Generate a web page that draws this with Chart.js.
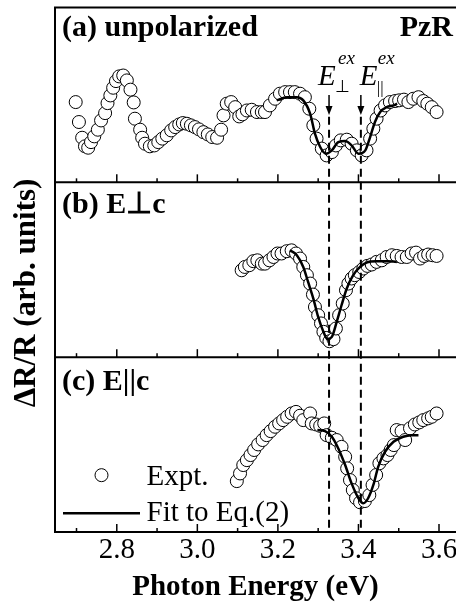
<!DOCTYPE html>
<html>
<head>
<meta charset="utf-8">
<script src="https://cdn.jsdelivr.net/npm/chart.js@4.4.0/dist/chart.umd.min.js"></script>
<style>
  html, body { margin: 0; padding: 0; background: #fff; overflow: hidden; }
  #wrap { width: 456px; height: 605px; overflow: hidden; }
</style>
</head>
<body>
<div id="wrap"><canvas id="chart" width="480" height="605"></canvas></div>
<script>
// x axis: photon energy (eV)
const xTicks = [2.7, 2.8, 2.9, 3.0, 3.1, 3.2, 3.3, 3.4, 3.5, 3.6];
const xLabels = [2.8, 3.0, 3.2, 3.4, 3.6];
const xRange = [2.6466, 3.6422];
const yRange = [0, 10];

// exciton energies (perp, parallel)
const exEnergies = [3.327, 3.406];

// (a) unpolarized
const aExptE = [2.698, 2.706, 2.714, 2.721, 2.729, 2.736, 2.744, 2.753, 2.761, 2.771, 2.777, 2.784, 2.791, 2.798, 2.806, 2.816,
  2.825, 2.834, 2.842, 2.845, 2.858, 2.863, 2.870, 2.882, 2.893, 2.903, 2.913, 2.924, 2.935, 2.945, 2.955, 2.964, 2.974,
  2.984, 2.994, 3.004, 3.015, 3.026, 3.037, 3.049, 3.059, 3.065, 3.073, 3.084, 3.094, 3.104, 3.112, 3.123, 3.135, 3.148,
  3.160, 3.168, 3.180, 3.193, 3.205, 3.218, 3.230, 3.242, 3.255, 3.267, 3.278, 3.288, 3.296, 3.309, 3.321, 3.334, 3.344,
  3.356, 3.371, 3.383, 3.396, 3.408, 3.420, 3.429, 3.437, 3.445, 3.455, 3.466, 3.478, 3.491, 3.501, 3.513, 3.524, 3.536,
  3.549, 3.561, 3.571, 3.582, 3.594];
const aExptR = [4.59, 3.45, 2.55, 2.06, 1.98, 2.30, 2.63, 3.01, 3.54, 3.96, 4.53, 4.97, 5.41, 5.79, 6.06, 6.11,
  5.83, 5.30, 4.57, 3.64, 3.01, 2.55, 2.21, 2.06, 2.11, 2.30, 2.50, 2.69, 2.97, 3.16, 3.31, 3.39, 3.35,
  3.26, 3.16, 3.03, 2.87, 2.74, 2.59, 2.55, 3.01, 3.83, 4.50, 4.59, 4.30, 3.77, 3.89, 4.11, 4.15, 4.02,
  4.02, 4.02, 4.40, 4.78, 5.07, 5.16, 5.16, 5.16, 5.07, 4.87, 4.21, 3.26, 2.50, 1.93, 1.54, 1.73, 2.11,
  2.40, 2.44, 2.21, 1.83, 1.54, 1.83, 2.50, 3.07, 3.64, 4.11, 4.40, 4.59, 4.65, 4.69, 4.73, 4.59, 4.78,
  4.87, 4.65, 4.50, 4.30, 4.02];
const aFitE = [3.197, 3.222, 3.247, 3.263, 3.280, 3.292, 3.305, 3.319, 3.334, 3.350, 3.367, 3.383, 3.400, 3.417, 3.429,
  3.441, 3.454, 3.470, 3.487, 3.496];
const aFitR = [4.69, 4.87, 4.87, 4.69, 3.93, 2.78, 2.02, 1.64, 1.83, 2.30, 2.36, 2.11, 1.64, 1.83, 2.59,
  3.45, 4.02, 4.30, 4.40, 4.50];

// (b) E perpendicular to c
const bExptE = [3.110, 3.118, 3.129, 3.139, 3.149, 3.160, 3.168, 3.179, 3.189, 3.199, 3.209, 3.222, 3.234, 3.245, 3.255,
  3.263, 3.272, 3.280, 3.287, 3.292, 3.300, 3.307, 3.313, 3.320, 3.328, 3.338, 3.344, 3.352, 3.361, 3.369, 3.375, 3.383,
  3.391, 3.402, 3.412, 3.422, 3.433, 3.445, 3.458, 3.470, 3.483, 3.495, 3.507, 3.520, 3.532, 3.543, 3.553, 3.563, 3.573,
  3.584, 3.594];
const bExptR = [4.97, 5.16, 5.26, 5.49, 5.54, 5.35, 5.35, 5.54, 5.73, 5.93, 5.93, 6.06, 6.11, 5.93, 5.64,
  5.16, 4.69, 4.21, 3.58, 2.87, 2.40, 1.93, 1.45, 1.10, 0.91, 1.03, 1.64, 2.40, 3.07, 3.83, 4.21, 4.50,
  4.69, 4.87, 5.07, 5.22, 5.30, 5.45, 5.54, 5.73, 5.83, 5.79, 5.73, 5.73, 5.93, 5.98, 5.64, 5.79, 5.87,
  5.83, 5.79];
const bFitE = [3.230, 3.247, 3.263, 3.275, 3.288, 3.300, 3.313, 3.323, 3.334, 3.346, 3.358, 3.371, 3.387, 3.404, 3.420,
  3.445, 3.470, 3.495];
const bFitR = [6.11, 5.83, 5.16, 4.30, 3.35, 2.30, 1.45, 1.03, 1.16, 2.02, 2.97, 3.93, 4.69, 5.16, 5.41,
  5.49, 5.49, 5.45];

// (c) E parallel to c
const cExptE = [3.098, 3.106, 3.114, 3.123, 3.132, 3.141, 3.151, 3.162, 3.172, 3.182, 3.193, 3.203, 3.213, 3.223, 3.234,
  3.245, 3.255, 3.263, 3.280, 3.284, 3.295, 3.305, 3.315, 3.321, 3.334, 3.346, 3.358, 3.367, 3.372, 3.379, 3.386, 3.394,
  3.404, 3.416, 3.427, 3.435, 3.444, 3.452, 3.462, 3.472, 3.480, 3.488, 3.495, 3.507, 3.516, 3.528, 3.540, 3.551, 3.561,
  3.573, 3.582, 3.594];
const cExptR = [2.91, 3.35, 3.83, 4.11, 4.40, 4.69, 5.01, 5.26, 5.54, 5.77, 6.02, 6.21, 6.40, 6.59, 6.78,
  6.87, 6.65, 6.40, 6.78, 6.21, 6.15, 6.07, 6.21, 5.54, 5.39, 5.26, 4.87, 4.30, 3.64, 2.97, 2.40, 1.93,
  1.70, 1.77, 2.11, 2.69, 3.26, 3.93, 4.21, 4.40, 4.69, 4.97, 5.83, 5.77, 5.26, 5.93, 6.15, 6.27, 6.40,
  6.50, 6.59, 6.78];
const cFitE = [3.298, 3.317, 3.334, 3.350, 3.367, 3.383, 3.400, 3.412, 3.424, 3.437, 3.449, 3.466, 3.487, 3.511, 3.532,
  3.549];
const cFitR = [5.83, 5.77, 5.45, 4.78, 3.83, 2.78, 1.93, 1.64, 1.93, 2.69, 3.73, 4.59, 5.16, 5.45, 5.54,
  5.54];

const SERIF = '"Liberation Serif", "Times New Roman", serif';

function pts(xs, ys) {
  return xs.map((v, i) => ({ x: v, y: ys[i] }));
}

function exptSet(label, xs, ys, axis) {
  return {
    type: 'scatter', label, data: pts(xs, ys), yAxisID: axis, order: 2,
    pointStyle: 'circle', pointRadius: 6.5, pointHoverRadius: 6.5,
    pointBackgroundColor: '#fff', pointBorderColor: '#000', pointBorderWidth: 1,
    showLine: false
  };
}

function fitSet(label, xs, ys, axis) {
  return {
    type: 'line', label, data: pts(xs, ys), yAxisID: axis, order: 1,
    borderColor: '#000', borderWidth: 2.5, pointRadius: 0, fill: false,
    cubicInterpolationMode: 'monotone'
  };
}

function panelAxis() {
  return {
    type: 'linear', position: 'left', stack: 'panels', stackWeight: 1,
    min: yRange[0], max: yRange[1], display: false
  };
}

// frames, inner ticks, dashed exciton lines and all in-plot text
const panelDecor = {
  id: 'panelDecor',
  afterDatasetsDraw(chart) {
    const { ctx, chartArea: area, scales } = chart;
    const x = scales.x;
    const panels = [scales.ya, scales.yb, scales.yc];
    ctx.save();
    ctx.strokeStyle = '#000';
    ctx.fillStyle = '#000';

    // dashed lines at the exciton energies
    ctx.lineWidth = 2;
    ctx.setLineDash([8, 5]);
    exEnergies.forEach(e => {
      const px = x.getPixelForValue(e);
      ctx.beginPath();
      ctx.moveTo(px, panels[0].getPixelForValue(3.75));
      ctx.lineTo(px, area.bottom);
      ctx.stroke();
    });
    ctx.setLineDash([]);

    // arrows
    ctx.lineWidth = 1.5;
    exEnergies.forEach(e => {
      const px = x.getPixelForValue(e);
      const top = panels[0].getPixelForValue(5.0);
      const tip = panels[0].getPixelForValue(3.85);
      ctx.beginPath();
      ctx.moveTo(px, top);
      ctx.lineTo(px, tip - 6);
      ctx.stroke();
      ctx.beginPath();
      ctx.moveTo(px - 3.5, tip - 9);
      ctx.lineTo(px + 3.5, tip - 9);
      ctx.lineTo(px, tip);
      ctx.closePath();
      ctx.fill();
    });

    // frame
    ctx.lineWidth = 2;
    ctx.beginPath();
    ctx.moveTo(area.left, area.top);
    ctx.lineTo(area.right, area.top);
    ctx.moveTo(area.left, area.top - 1);
    ctx.lineTo(area.left, area.bottom + 1);
    panels.forEach(s => {
      ctx.moveTo(area.left, s.bottom);
      ctx.lineTo(area.right, s.bottom);
    });
    ctx.stroke();

    // inner ticks on every panel
    ctx.lineWidth = 1.5;
    panels.forEach(s => {
      xTicks.forEach(v => {
        const px = x.getPixelForValue(v);
        const len = xLabels.includes(v) ? 8 : 4;
        ctx.beginPath();
        ctx.moveTo(px, s.bottom);
        ctx.lineTo(px, s.bottom - len);
        ctx.stroke();
      });
    });

    // panel labels
    ctx.textBaseline = 'alphabetic';
    ctx.font = 'bold 30px ' + SERIF;
    ctx.textAlign = 'left';
    ctx.fillText('(a) unpolarized', area.left + 7, panels[0].top + 28);
    ctx.fillText('(b) E\u22A5c', area.left + 7, panels[1].top + 31);
    ctx.fillText('(c) E||c', area.left + 7, panels[2].top + 33);
    ctx.textAlign = 'right';
    ctx.fillText('PzR', area.left + 398, panels[0].top + 28);

    // exciton labels
    ctx.textAlign = 'left';
    const p0 = x.getPixelForValue(exEnergies[0]);
    const p1 = x.getPixelForValue(exEnergies[1]);
    const eBase = panels[0].top + 77;
    ctx.font = 'italic 29px ' + SERIF;
    ctx.fillText('E', p0 - 11, eBase);
    ctx.fillText('E', p1 - 1, eBase);
    ctx.font = 'italic 19px ' + SERIF;
    ctx.fillText('ex', p0 + 9, eBase - 21);
    ctx.fillText('ex', p1 + 17, eBase - 21);
    ctx.font = '17px ' + SERIF;
    ctx.fillText('\u22A5', p0 + 6, eBase + 7);
    ctx.fillText('||', p1 + 16, eBase + 8);

    // legend in panel (c)
    ctx.font = '29px ' + SERIF;
    ctx.lineWidth = 1;
    ctx.beginPath();
    ctx.arc(area.left + 46.5, panels[2].top + 118, 6.5, 0, Math.PI * 2);
    ctx.fillStyle = '#fff';
    ctx.fill();
    ctx.stroke();
    ctx.fillStyle = '#000';
    ctx.fillText('Expt.', area.left + 91.5, panels[2].top + 128);
    ctx.lineWidth = 2.5;
    ctx.beginPath();
    ctx.moveTo(area.left + 8, panels[2].top + 156);
    ctx.lineTo(area.left + 85, panels[2].top + 156);
    ctx.stroke();
    ctx.fillText('Fit to Eq.(2)', area.left + 91.5, panels[2].top + 164);

    // shared y title
    ctx.save();
    ctx.translate(27, 293);
    ctx.rotate(-Math.PI / 2);
    ctx.textAlign = 'center';
    ctx.textBaseline = 'middle';
    ctx.font = 'bold 31px ' + SERIF;
    ctx.fillText('\u0394R/R (arb. units)', 0, 0);
    ctx.restore();

    ctx.restore();
  }
};

new Chart(document.getElementById('chart'), {
  type: 'scatter',
  data: {
    datasets: [
      exptSet('Expt. (a)', aExptE, aExptR, 'ya'),
      fitSet('Fit (a)', aFitE, aFitR, 'ya'),
      exptSet('Expt. (b)', bExptE, bExptR, 'yb'),
      fitSet('Fit (b)', bFitE, bFitR, 'yb'),
      exptSet('Expt. (c)', cExptE, cExptR, 'yc'),
      fitSet('Fit (c)', cFitE, cFitR, 'yc')
    ]
  },
  options: {
    responsive: false,
    animation: false,
    devicePixelRatio: 1,
    // canvas is 24px wider than the view so the right frame edge falls off-screen
    layout: { padding: { left: 55, top: 7, right: 24, bottom: 0 } },
    plugins: { legend: { display: false }, tooltip: { enabled: false } },
    scales: {
      x: {
        type: 'linear', position: 'bottom',
        min: xRange[0], max: xRange[1],
        afterBuildTicks(scale) {
          scale.ticks = xTicks.map(v => ({ value: v }));
        },
        afterFit(scale) {
          scale.height = 73;
        },
        grid: { display: false, drawTicks: false },
        border: { display: false },
        ticks: {
          autoSkip: false, maxRotation: 0, padding: 4, color: '#000',
          font: { family: SERIF, size: 29, lineHeight: 1 },
          callback: v => (xLabels.some(l => Math.abs(l - v) < 1e-6) ? v.toFixed(1) : '')
        },
        title: {
          display: true, text: 'Photon Energy (eV)', color: '#000',
          font: { family: SERIF, size: 29, weight: 'bold', lineHeight: 1 },
          padding: { top: 0, bottom: 3 }
        }
      },
      yc: panelAxis(),
      yb: panelAxis(),
      ya: panelAxis()
    }
  },
  plugins: [panelDecor]
});
</script>
</body>
</html>
